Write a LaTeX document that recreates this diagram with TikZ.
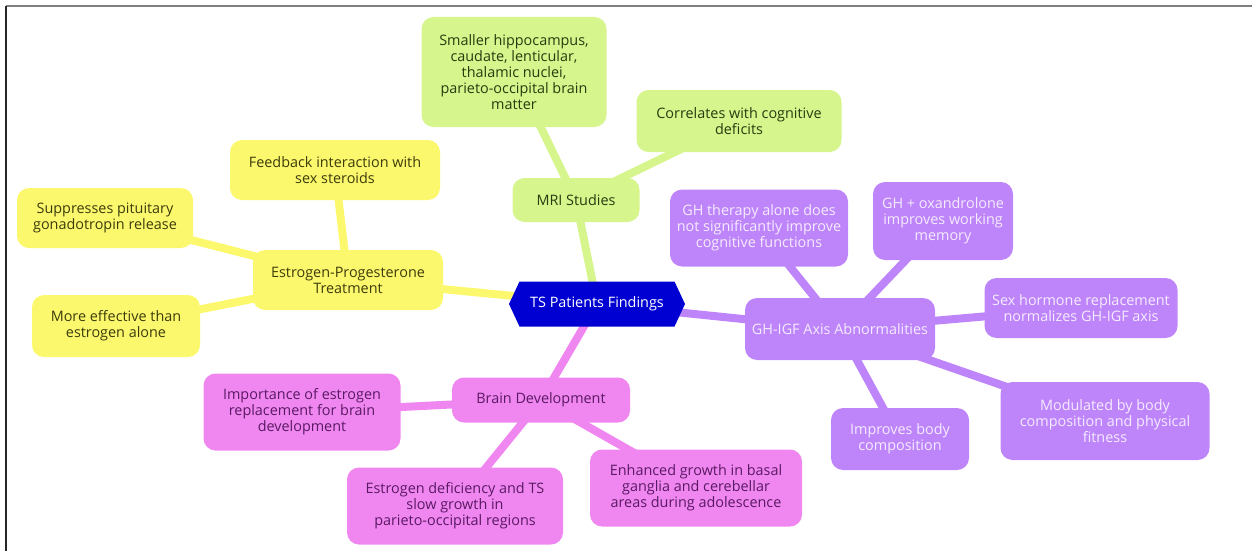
\documentclass[tikz,border=0pt]{standalone}
\usepackage{fontspec}
\setmainfont{Open Sans}
\usetikzlibrary{shapes.symbols,backgrounds}
\definecolor{cY}{RGB}{252,248,110}
\definecolor{cG}{RGB}{214,245,140}
\definecolor{cP}{RGB}{240,135,240}
\definecolor{cV}{RGB}{190,133,250}
\definecolor{cB}{RGB}{0,0,210}
\definecolor{tY}{RGB}{60,60,10}
\definecolor{tG}{RGB}{40,60,15}
\definecolor{tP}{RGB}{90,25,100}
\definecolor{tV}{RGB}{245,235,255}
\newcommand{\fs}{\fontsize{14.4pt}{16pt}\selectfont}
\tikzset{
  x=1pt, y=-1pt,
  box/.style={rounded corners=12pt, align=center, inner sep=0pt, font=\fs},
  ybox/.style={box, fill=cY, text=tY},
  gbox/.style={box, fill=cG, text=tG},
  pbox/.style={box, fill=cP, text=tP},
  vbox/.style={box, fill=cV, text=tV},
  edge/.style={line width=8pt},
}
\begin{document}
\begin{tikzpicture}
\useasboundingbox (0,0) rectangle (1252,551);
\draw[line width=2pt, gray] (6,6) -- (1252,6);
\draw[line width=2pt, black!85] (6,6) -- (6,551);

% central
\node[signal, signal to=west and east, signal pointer angle=130, fill=cB, text=white,
      minimum width=176pt, minimum height=45pt, inner sep=0pt, font=\fs] (c) at (597,304) {TS Patients Findings};

% MRI branch
\node[gbox, minimum width=127pt, minimum height=44pt] (mri) at (576,200) {MRI Studies};
\node[gbox, minimum width=185pt, minimum height=110pt] (hip) at (514,72) {Smaller hippocampus,\\caudate, lenticular,\\thalamic nuclei,\\parieto-occipital brain\\matter};
\node[gbox, minimum width=205pt, minimum height=62pt] (cor) at (739,121) {Correlates with cognitive\\deficits};

% Estrogen branch
\node[ybox, minimum width=190pt, minimum height=60pt] (ep) at (348,280) {Estrogen-Progesterone\\Treatment};
\node[ybox, minimum width=210pt, minimum height=60pt] (fb) at (335,170) {Feedback interaction with\\sex steroids};
\node[ybox, minimum width=176pt, minimum height=60pt] (sup) at (105,218) {Suppresses pituitary\\gonadotropin release};
\node[ybox, minimum width=168pt, minimum height=62pt] (eff) at (116,326) {More effective than\\estrogen alone};

% Brain branch
\node[pbox, minimum width=178pt, minimum height=45pt] (bd) at (541,400) {Brain Development};
\node[pbox, minimum width=197pt, minimum height=77pt] (imp) at (302,412) {Importance of estrogen\\replacement for brain\\development};
\node[pbox, minimum width=216pt, minimum height=77pt] (def) at (455,506) {Estrogen deficiency and TS\\slow growth in\\parieto-occipital regions};
\node[pbox, minimum width=212pt, minimum height=77pt] (enh) at (696,488) {Enhanced growth in basal\\ganglia and cerebellar\\areas during adolescence};

% GH branch
\node[vbox, minimum width=190pt, minimum height=62pt] (gh) at (840,329) {GH-IGF Axis Abnormalities};
\node[vbox, minimum width=178pt, minimum height=77pt] (ght) at (759,228) {GH therapy alone does\\not significantly improve\\cognitive functions};
\node[vbox, minimum width=140pt, minimum height=78pt] (oxa) at (943,221) {GH + oxandrolone\\improves working\\memory};
\node[vbox, minimum width=193pt, minimum height=60pt] (sex) at (1081,308) {Sex hormone replacement\\normalizes GH-IGF axis};
\node[vbox, minimum width=209pt, minimum height=78pt] (mod) at (1105,421) {Modulated by body\\composition and physical\\fitness};
\node[vbox, minimum width=138pt, minimum height=62pt] (ibc) at (900,439) {Improves body\\composition};

\begin{scope}[on background layer]
  \draw[edge, cG] (c.center) -- (mri.center);
  \draw[edge, cG] (mri.center) -- (hip.center);
  \draw[edge, cG] (mri.center) -- (cor.center);
  \draw[edge, cY] (c.center) -- (ep.center);
  \draw[edge, cY] (ep.center) -- (fb.center);
  \draw[edge, cY] (ep.center) -- (sup.center);
  \draw[edge, cY] (ep.center) -- (eff.center);
  \draw[edge, cP] (c.center) -- (bd.center);
  \draw[edge, cP] (bd.center) -- (imp.center);
  \draw[edge, cP] (bd.center) -- (def.center);
  \draw[edge, cP] (bd.center) -- (enh.center);
  \draw[edge, cV] (c.center) -- (gh.center);
  \draw[edge, cV] (gh.center) -- (ght.center);
  \draw[edge, cV] (gh.center) -- (oxa.center);
  \draw[edge, cV] (gh.center) -- (sex.center);
  \draw[edge, cV] (gh.center) -- (mod.center);
  \draw[edge, cV] (gh.center) -- (ibc.center);
\end{scope}
\end{tikzpicture}
\end{document}
